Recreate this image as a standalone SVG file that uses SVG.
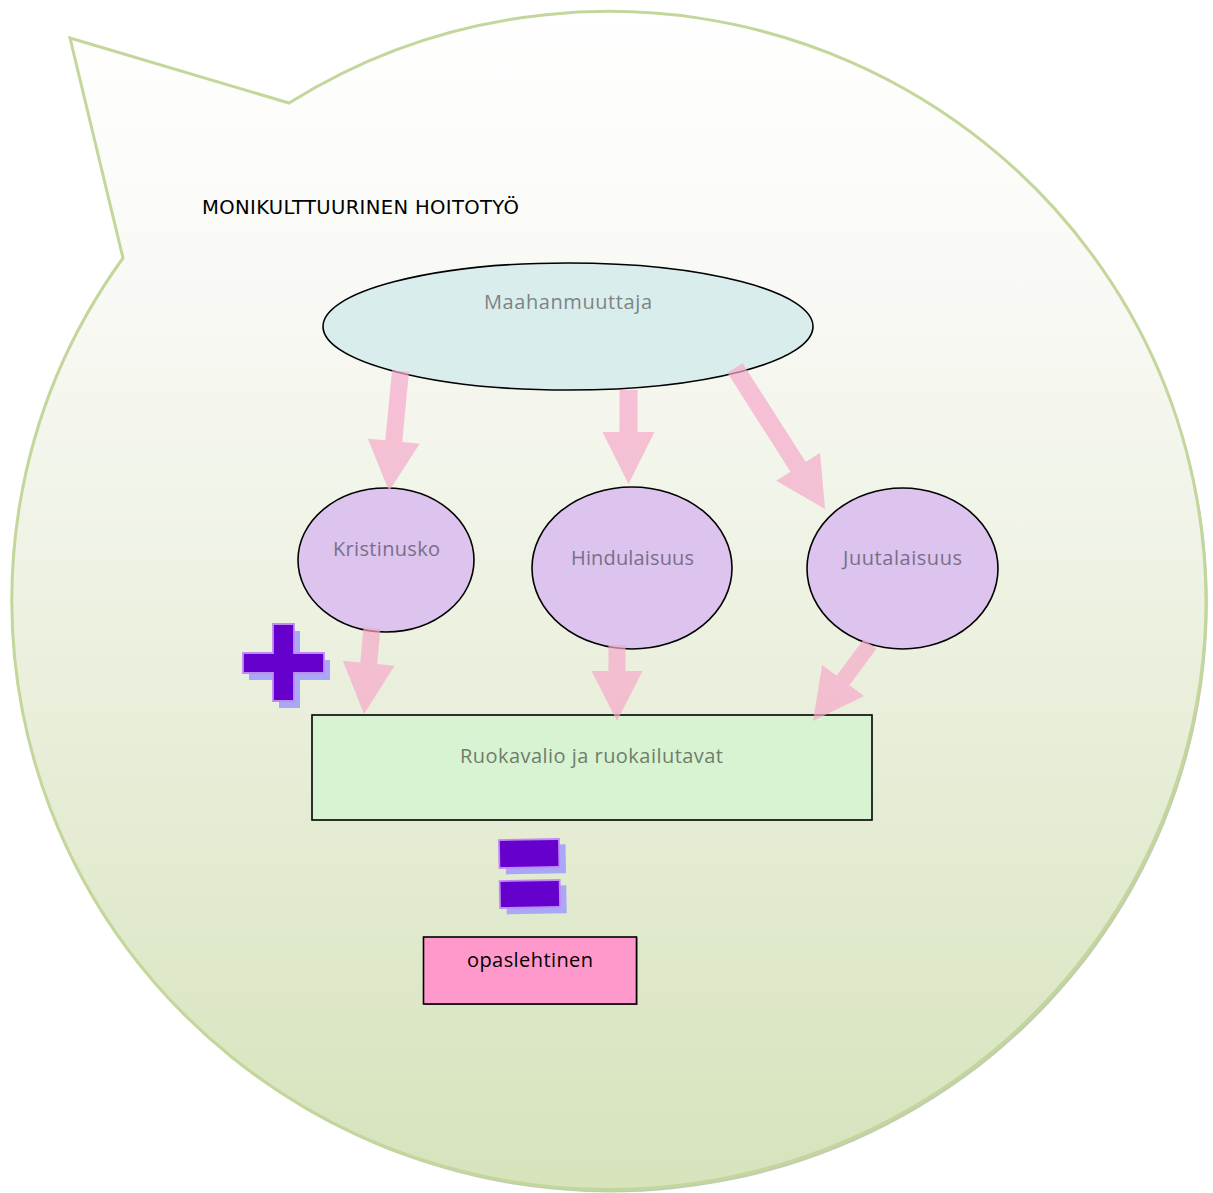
<svg xmlns="http://www.w3.org/2000/svg" width="1213" height="1193" viewBox="0 0 1213 1193">
  <defs>
    <linearGradient id="bubbleGrad" x1="0" y1="0" x2="0" y2="1">
      <stop offset="0" stop-color="#ffffff"/>
      <stop offset="0.25" stop-color="#f8f9f4"/>
      <stop offset="0.55" stop-color="#ebf0de"/>
      <stop offset="1" stop-color="#d6e3bb"/>
    </linearGradient>
    <path id="bubbleShape" d="M289,103 A597,589 0 1 1 123,258 L70,38 Z"/>
  </defs>
  <style>
    .oval { fill: #dcc4ee; stroke: #000000; stroke-width: 1.6; }
    .lbl { font-family: "Open Sans", "Noto Sans", "Liberation Sans", sans-serif; font-size: 20px; text-anchor: middle; }
    .purpleLbl { fill: #7b6e87; }
    .arrow { fill: #f5aacb; fill-opacity: 0.7; }
    .sym { fill: #6600cc; stroke: #c08af5; stroke-width: 1.8; }
    .symShadow { fill: #a8a8f6; }
  </style>

  <g id="bubble">
    <use href="#bubbleShape" transform="translate(2,3)" fill="#aab78f" opacity="0.7"/>
    <use href="#bubbleShape" fill="url(#bubbleGrad)" stroke="#c3d69b" stroke-width="3" stroke-linejoin="miter"/>
  </g>

  <g id="title">
    <text x="202" y="214" font-family="DejaVu Sans, Verdana, sans-serif" font-size="19.6" fill="#000000" textLength="317">MONIKULTTUURINEN HOITOTYÖ</text>
  </g>

  <g id="node-maahanmuuttaja">
    <ellipse cx="568" cy="326.5" rx="245" ry="63.5" fill="#daeded" stroke="#000000" stroke-width="1.6"/>
    <text class="lbl" x="568" y="309" fill="#7c8485" textLength="168">Maahanmuuttaja</text>
  </g>

  <g id="node-kristinusko">
    <ellipse class="oval" cx="386" cy="560" rx="88" ry="72"/>
    <text class="lbl purpleLbl" x="386.5" y="556" textLength="107">Kristinusko</text>
  </g>

  <g id="node-hindulaisuus">
    <ellipse class="oval" cx="632" cy="568" rx="100" ry="81"/>
    <text class="lbl purpleLbl" x="632.5" y="565" textLength="123">Hindulaisuus</text>
  </g>

  <g id="node-juutalaisuus">
    <ellipse class="oval" cx="902.5" cy="568.5" rx="95.5" ry="80.5"/>
    <text class="lbl purpleLbl" x="902.5" y="565" textLength="119">Juutalaisuus</text>
  </g>

  <g id="node-ruokavalio">
    <rect x="312" y="715" width="560" height="105" fill="#d8f3d1" stroke="#000000" stroke-width="1.6"/>
    <text class="lbl" x="591.5" y="763" fill="#6f7d6b" textLength="263">Ruokavalio ja ruokailutavat</text>
  </g>

  <g id="node-opaslehtinen">
    <rect x="424.5" y="938" width="213" height="67" fill="#333333" opacity="0.6"/>
    <rect x="423.5" y="937" width="213" height="67" fill="#ff99cc" stroke="#000000" stroke-width="1.6"/>
    <text class="lbl" x="530" y="967" fill="#000000" textLength="126">opaslehtinen</text>
  </g>

  <g id="connectors">
    <path class="arrow" transform="translate(400.5,371) rotate(95.47)" d="M0,-8.5 L70.5,-8.5 L70.5,-26 L120.5,0 L70.5,26 L70.5,8.5 L0,8.5 Z"/>
    <path class="arrow" transform="translate(628.5,390) rotate(90)" d="M0,-9 L42,-9 L42,-26 L94,0 L42,26 L42,9 L0,9 Z"/>
    <path class="arrow" transform="translate(735,368) rotate(57.45)" d="M0,-9 L117.3,-9 L117.3,-26 L167.3,0 L117.3,26 L117.3,9 L0,9 Z"/>
    <path class="arrow" transform="translate(372,628) rotate(95.3)" d="M0,-8.5 L35.4,-8.5 L35.4,-26 L86.4,0 L35.4,26 L35.4,8.5 L0,8.5 Z"/>
    <path class="arrow" transform="translate(617,645) rotate(90)" d="M0,-8.5 L26,-8.5 L26,-25.5 L76,0 L26,25.5 L26,8.5 L0,8.5 Z"/>
    <path class="arrow" transform="translate(870,644) rotate(126.5)" d="M0,-8 L45.3,-8 L45.3,-26 L95.8,0 L45.3,26 L45.3,8 L0,8 Z"/>
  </g>

  <g id="plus-sign">
    <path class="symShadow" transform="translate(6,7)" d="M273,624 H294 V653 H324 V673 H294 V701 H273 V673 H243 V653 H273 Z"/>
    <path class="sym" d="M273,624 H294 V653 H324 V673 H294 V701 H273 V673 H243 V653 H273 Z"/>
  </g>

  <g id="equals-sign">
    <g transform="rotate(-1 529 873)">
      <rect class="symShadow" x="506" y="845" width="60" height="29"/>
      <rect class="symShadow" x="506" y="886" width="60" height="28"/>
      <rect class="sym" x="499.5" y="839.5" width="60" height="28"/>
      <rect class="sym" x="499.5" y="880.5" width="60" height="27"/>
    </g>
  </g>
</svg>
